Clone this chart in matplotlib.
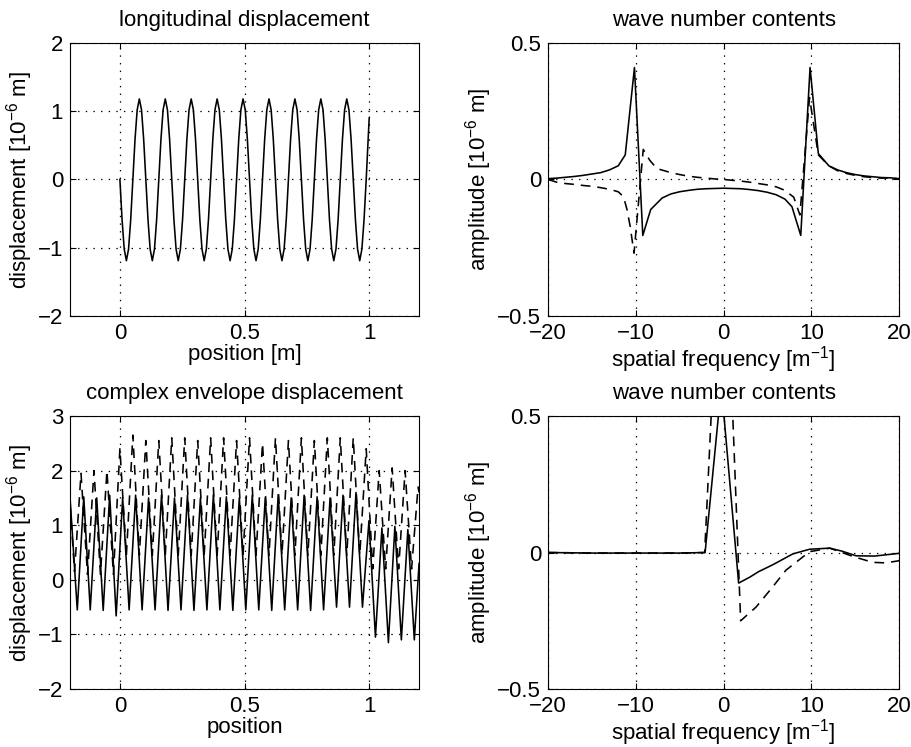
import matplotlib
matplotlib.use("Agg")
import matplotlib.pyplot as plt
from matplotlib.ticker import FuncFormatter

plt.rcParams['font.family'] = ['Liberation Sans', 'DejaVu Sans']
plt.rcParams['font.size'] = 16
plt.rcParams['mathtext.default'] = 'regular'
plt.rcParams['lines.scale_dashes'] = False

# --- top left: longitudinal displacement (sampled sine, 10^-6 m) ---
pos_long = [0, 0.0087, 0.0173, 0.026, 0.0347, 0.0433, 0.052, 0.0607, 0.0693, 0.078, 0.0867, 0.0953,
            0.104, 0.1127, 0.1213, 0.13, 0.1387, 0.1473, 0.156, 0.1647, 0.1733, 0.182, 0.1907, 0.1993,
            0.208, 0.2167, 0.2253, 0.234, 0.2427, 0.2513, 0.26, 0.2687, 0.2773, 0.286, 0.2947, 0.3033,
            0.312, 0.3207, 0.3293, 0.338, 0.3467, 0.3553, 0.364, 0.3727, 0.3813, 0.39, 0.3987, 0.4073,
            0.416, 0.4247, 0.4333, 0.442, 0.4507, 0.4593, 0.468, 0.4767, 0.4853, 0.494, 0.5027, 0.5113,
            0.52, 0.5287, 0.5373, 0.546, 0.5547, 0.5633, 0.572, 0.5807, 0.5893, 0.598, 0.6067, 0.6153,
            0.624, 0.6327, 0.6413, 0.65, 0.6587, 0.6673, 0.676, 0.6847, 0.6933, 0.702, 0.7107, 0.7193,
            0.728, 0.7367, 0.7453, 0.754, 0.7627, 0.7713, 0.78, 0.7887, 0.7973, 0.806, 0.8147, 0.8233,
            0.832, 0.8407, 0.8493, 0.858, 0.8667, 0.8753, 0.884, 0.8927, 0.9013, 0.91, 0.9187, 0.9273,
            0.936, 0.9447, 0.9533, 0.962, 0.9707, 0.9793, 0.988, 0.9967, 1.0]
disp_long = [0, -0.59, -1.02, -1.19, -1.02, -0.59, 0, 0.59, 1.02, 1.18, 1.02, 0.59,
             0, -0.59, -1.02, -1.19, -1.02, -0.59, 0, 0.59, 1.02, 1.18, 1.02, 0.59,
             0, -0.59, -1.02, -1.19, -1.02, -0.59, 0, 0.59, 1.02, 1.18, 1.02, 0.59,
             0, -0.59, -1.02, -1.19, -1.02, -0.59, 0, 0.59, 1.02, 1.18, 1.02, 0.59,
             0, -0.59, -1.02, -1.19, -1.02, -0.59, 0, 0.59, 1.02, 1.18, 1.02, 0.59,
             0, -0.59, -1.02, -1.19, -1.02, -0.59, 0, 0.59, 1.02, 1.18, 1.02, 0.59,
             0, -0.59, -1.02, -1.19, -1.02, -0.59, 0, 0.59, 1.02, 1.18, 1.02, 0.59,
             0, -0.59, -1.02, -1.19, -1.02, -0.59, 0, 0.59, 1.02, 1.18, 1.02, 0.59,
             0, -0.59, -1.02, -1.19, -1.02, -0.59, 0, 0.59, 1.02, 1.18, 1.02, 0.59,
             0, -0.59, -1.02, -1.19, -1.02, -0.59, 0, 0.66, 0.9]

# --- top right: wave number contents of the displacement ---
freq_re = [-20, -19, -18, -17, -16, -15, -14, -13, -12, -11.2, -10.15, -9.2,
           -8.3, -7, -6, -5, -4, -3, -2, -1, 0, 1, 2, 3, 4, 5, 6, 7, 7.8,
           8.8, 9.86, 10.8, 12, 13, 14, 15, 16, 17, 18, 19, 20]
amp_re = [0.003, 0.005, 0.008, 0.011, 0.015, 0.02, 0.025, 0.035, 0.05, 0.09,
          0.41, -0.205, -0.11, -0.068, -0.053, -0.045, -0.04, -0.036, -0.034,
          -0.033, -0.032, -0.033, -0.034, -0.037, -0.041, -0.047, -0.056,
          -0.072, -0.1, -0.205, 0.41, 0.095, 0.05, 0.035, 0.025, 0.018,
          0.013, 0.01, 0.007, 0.006, 0.003]
freq_im = [-20, -19, -18, -17, -16, -15, -14, -13, -12, -11.4, -11, -10.65,
           -10.2, -9.15, -8.4, -7.6, -6, -5, -4, -3, -2, -1, 0, 1, 2, 3, 4,
           5, 6, 7, 8, 8.7, 9.8, 10.8, 12, 13, 14, 15, 16, 17, 18, 19, 20]
amp_im = [0.0, -0.01, -0.015, -0.018, -0.022, -0.025, -0.03, -0.036, -0.045,
          -0.063, -0.11, -0.17, -0.27, 0.11, 0.07, 0.04, 0.025, 0.018, 0.012,
          0.008, 0.005, 0.002, 0.0, -0.003, -0.006, -0.01, -0.015, -0.02,
          -0.027, -0.04, -0.065, -0.13, 0.3, 0.09, 0.05, 0.032, 0.022, 0.015,
          0.01, 0.007, 0.005, 0.006, 0.002]

# --- bottom left: complex envelope displacement ---
pos_env_re = [-0.2, -0.171, -0.145, -0.119, -0.093, -0.067, -0.041, -0.015,
              0.011, 0.037, 0.063, 0.089, 0.115, 0.141, 0.167, 0.193, 0.219,
              0.245, 0.271, 0.297, 0.323, 0.349, 0.375, 0.401, 0.427, 0.453,
              0.479, 0.505, 0.531, 0.557, 0.583, 0.609, 0.635, 0.661, 0.687,
              0.713, 0.739, 0.765, 0.791, 0.817, 0.843, 0.869, 0.895, 0.921,
              0.947, 0.973, 0.999, 1.025, 1.051, 1.077, 1.103, 1.129, 1.155,
              1.181, 1.2]
env_re = [1.5, -0.55, 1.52, -0.55, 1.5, -0.56, 1.55, -0.66,
          1.5, -0.55, 1.55, -0.55, 1.5, -0.55, 1.56, -0.56, 1.5,
          -0.55, 1.55, -0.56, 1.5, -0.55, 1.56, -0.55, 1.52, -0.56,
          1.5, -0.55, 1.55, -0.55, 1.5, -0.56, 1.56, -0.55, 1.5,
          -0.55, 1.55, -0.56, 1.52, -0.55, 1.5, -0.5, 1.55, -0.5,
          1.6, -0.5, 1.08, -1.05, 0.95, -1.15, 0.98, -1.1, 0.92,
          -1.1, 0.3]
pos_env_im = [-0.2, -0.182, -0.156, -0.13, -0.104, -0.078, -0.052, -0.026,
              0.0, 0.026, 0.052, 0.078, 0.104, 0.13, 0.156, 0.182, 0.208,
              0.234, 0.26, 0.286, 0.312, 0.338, 0.364, 0.39, 0.416, 0.442,
              0.468, 0.494, 0.52, 0.546, 0.572, 0.598, 0.624, 0.65, 0.676,
              0.702, 0.728, 0.754, 0.78, 0.806, 0.832, 0.858, 0.884, 0.91,
              0.936, 0.962, 0.988, 1.014, 1.04, 1.066, 1.092, 1.118, 1.144,
              1.17, 1.196, 1.2]
env_im = [1.4, 0.15, 1.95, 0.1, 2.0, 0.1, 2.0, 0.1,
          2.4, 0.45, 2.65, 0.45, 2.55, 0.45, 2.55, 0.45, 2.6,
          0.45, 2.6, 0.45, 2.55, 0.45, 2.6, 0.45, 2.6, 0.45,
          2.55, 0.45, 2.6, 0.45, 2.5, 0.45, 2.6, 0.45, 2.55,
          0.45, 2.6, 0.45, 2.55, 0.45, 2.6, 0.45, 2.6, 0.45,
          2.6, 0.45, 2.4, 0.2, 2.0, 0.2, 2.05, 0.2, 2.0,
          0.2, 1.7, 1.6]

# --- bottom right: wave number contents of the envelope ---
freq_env_re = [-20, -15, -10, -5, -2.1, -0.25, 1.72, 3, 4, 5.6, 7.9, 9.8,
               12.1, 13.5, 15.1, 17.2, 20]
amp_env_re = [0.0, -0.002, -0.002, -0.002, 0.0, 0.61, -0.112, -0.09, -0.07,
              -0.045, -0.005, 0.012, 0.016, 0.005, -0.012, -0.013, -0.003]
freq_env_im = [-20, -15, -10, -5, -2.15, -0.05, 1.95, 3.7, 5.5, 7.1, 9.8,
               12.1, 13.5, 14.8, 17, 18.5, 20]
amp_env_im = [0.0, -0.002, -0.002, -0.002, 0.0, 1.42, -0.25, -0.2, -0.13,
              -0.065, 0.003, 0.016, 0.0, -0.015, -0.036, -0.038, -0.03]

DASH = (0, (7, 5))
GRID = (0, (1, 4.5))
LW = 1.15


def fmt(v, _):
    return f"{v:g}".replace('-', '\u2212')


def style(ax, xlim, ylim, xticks, yticks, title, xlabel, ylabel):
    ax.set_xlim(*xlim)
    ax.set_ylim(*ylim)
    ax.set_xticks(xticks)
    ax.set_yticks(yticks)
    ax.xaxis.set_major_formatter(FuncFormatter(fmt))
    ax.yaxis.set_major_formatter(FuncFormatter(fmt))
    ax.tick_params(direction='in', top=True, right=True, length=4, pad=5)
    ax.grid(True, linestyle=GRID, color='k', linewidth=0.9)
    ax.set_title(title, pad=12, fontsize=16)
    ax.set_xlabel(xlabel, labelpad=0)
    ax.set_ylabel(ylabel, labelpad=2)


fig = plt.figure(figsize=(9.12, 7.47), dpi=100)

ax1 = fig.add_axes([0.0768, 0.577, 0.3827, 0.3655])
ax1.plot(pos_long, disp_long, color='k', lw=LW)
style(ax1, (-0.2, 1.2), (-2, 2), [0, 0.5, 1], [-2, -1, 0, 1, 2],
      'longitudinal displacement', 'position [m]',
      'displacement [10$^{-6}$ m]')

ax2 = fig.add_axes([0.6009, 0.577, 0.3849, 0.3655])
ax2.plot(freq_re, amp_re, color='k', lw=LW)
ax2.plot(freq_im, amp_im, color='k', lw=LW, linestyle=DASH)
style(ax2, (-20, 20), (-0.5, 0.5), [-20, -10, 0, 10, 20], [-0.5, 0, 0.5],
      'wave number contents', 'spatial frequency [m$^{-1}$]',
      'amplitude [10$^{-6}$ m]')

ax3 = fig.add_axes([0.0768, 0.0776, 0.3827, 0.3655])
ax3.plot(pos_env_re, env_re, color='k', lw=LW)
ax3.plot(pos_env_im, env_im, color='k', lw=LW, linestyle=DASH)
style(ax3, (-0.2, 1.2), (-2, 3), [0, 0.5, 1], [-2, -1, 0, 1, 2, 3],
      'complex envelope displacement', 'position',
      'displacement [10$^{-6}$ m]')

ax4 = fig.add_axes([0.6009, 0.0776, 0.3849, 0.3655])
ax4.plot(freq_env_re, amp_env_re, color='k', lw=LW)
ax4.plot(freq_env_im, amp_env_im, color='k', lw=LW, linestyle=DASH)
style(ax4, (-20, 20), (-0.5, 0.5), [-20, -10, 0, 10, 20], [-0.5, 0, 0.5],
      'wave number contents', 'spatial frequency [m$^{-1}$]',
      'amplitude [10$^{-6}$ m]')

fig.savefig('out.png', dpi=100)
